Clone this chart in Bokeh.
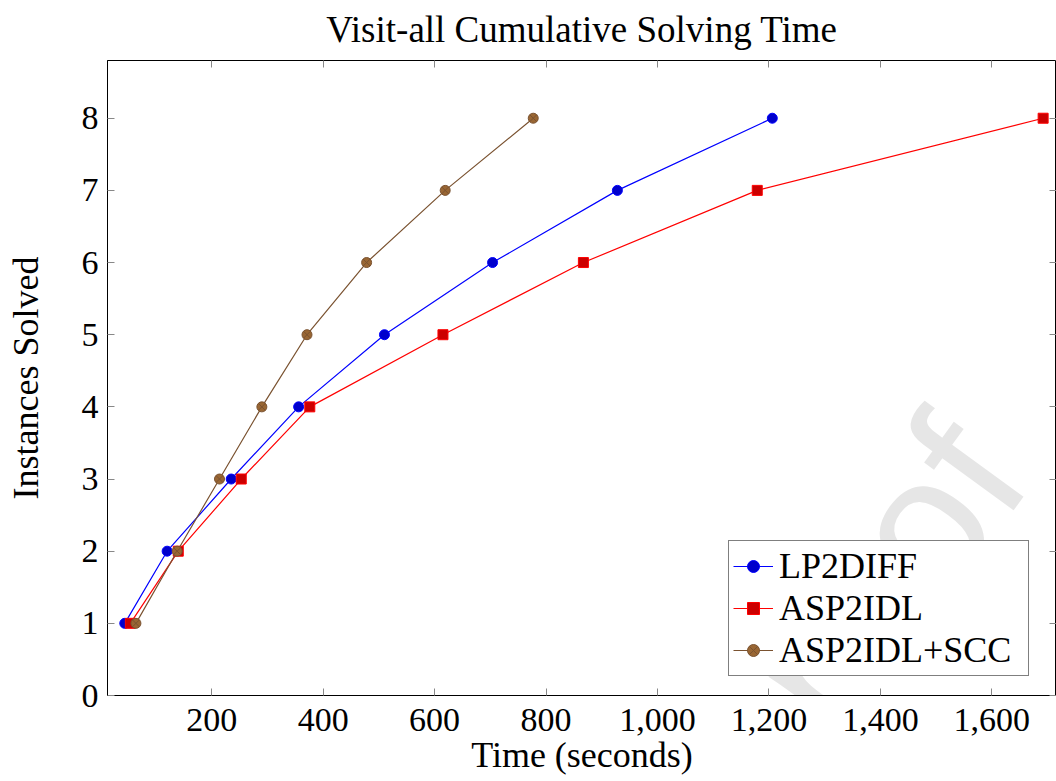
from bokeh.plotting import figure
from bokeh.models import Range1d, LinearAxis, Legend, LegendItem, Label, NumeralTickFormatter, FixedTicker
from bokeh.embed import file_html
from bokeh.resources import INLINE

# ---- data ----
instances = [1, 2, 3, 4, 5, 6, 7, 8]
lp2diff = [44, 120, 235, 356, 510, 704, 928, 1206]
asp2idl = [54, 140, 253, 376, 615, 867, 1179, 1692]
asp2idl_scc = [64, 138, 214, 290, 371, 478, 619, 777]
x_ticks = [200, 400, 600, 800, 1000, 1200, 1400, 1600]
y_ticks = [0, 1, 2, 3, 4, 5, 6, 7, 8]

title_text = "Visit-all Cumulative Solving Time"
x_label = "Time (seconds)"
y_label = "Instances Solved"

FONT = "Liberation Serif"

p = figure(width=1056, height=781, output_backend="svg", toolbar_location=None,
           x_range=Range1d(13, 1716), y_range=Range1d(0, 8.8),
           min_border_left=107, min_border_top=60, min_border_bottom=86, min_border_right=0)

p.xgrid.visible = False
p.ygrid.visible = False
p.outline_line_color = "black"
p.outline_line_width = 1
p.background_fill_color = "white"
p.border_fill_color = "white"

p.title.text = title_text
p.title.align = "center"
p.title.vertical_align = "top"
p.title.text_font = FONT
p.title.text_font_size = "37px"
p.title.text_font_style = "normal"
p.title.text_color = "black"
p.title.text_line_height = 0.7
p.title.standoff = 17

for ax in p.xaxis:
    ax.ticker = FixedTicker(ticks=x_ticks)
    ax.formatter = NumeralTickFormatter(format="0,0")
    ax.axis_label = x_label
for ax in p.yaxis:
    ax.ticker = FixedTicker(ticks=y_ticks)
    ax.axis_label = y_label

for ax in p.xaxis + p.yaxis:
    ax.major_label_text_font = FONT
    ax.major_label_text_font_size = "34px"
    ax.major_label_text_color = "black"
    ax.axis_label_text_font = FONT
    ax.axis_label_text_font_size = "36px"
    ax.axis_label_text_font_style = "normal"
    ax.axis_label_text_color = "black"
    ax.major_tick_in = 7
    ax.major_tick_out = 0
    ax.major_tick_line_color = "#888888"
    ax.minor_tick_line_color = None
    ax.axis_line_color = "black"

p.xaxis.major_label_standoff = 13
p.xaxis.axis_label_standoff = 1
p.yaxis.major_label_standoff = 9
p.yaxis.axis_label_standoff = 33

# mirrored ticks on the right and top (no labels)
for side, tks in (("right", y_ticks), ("above", x_ticks)):
    mirror = LinearAxis(ticker=FixedTicker(ticks=tks), major_label_text_font_size="1px",
                        major_label_text_color=None, major_tick_in=7, major_tick_out=0,
                        major_tick_line_color="#888888", minor_tick_line_color=None,
                        axis_line_color=None, major_label_standoff=0)
    p.add_layout(mirror, side)

# watermark
wm = Label(x=1581, y=3.51, text="Journal Pre-proof", angle=54, angle_units="deg",
           text_align="right", text_baseline="alphabetic", text_font="Liberation Sans",
           text_font_size="190px", text_color="#e6e6e6", level="underlay")
p.add_layout(wm)

series = [
    (lp2diff, "LP2DIFF", "#0000ff", "#0000cc", "circle"),
    (asp2idl, "ASP2IDL", "#ff0000", "#cc0000", "square"),
    (asp2idl_scc, "ASP2IDL+SCC", "#7a5230", "#996633", "circle_x"),
]
items = []
for xs, name, lc, fc, mk in series:
    l = p.line(xs, instances, line_color=lc, line_width=1.2)
    s = p.scatter(xs, instances, marker=mk, size=10, fill_color=fc, line_color=lc, line_width=1)
    items.append(LegendItem(label=name, renderers=[l, s]))

legend = Legend(items=items, location=(621, 19))
legend.label_text_font = FONT
legend.label_text_font_size = "36px"
legend.label_text_color = "black"
legend.label_standoff = 6
legend.label_width = 245
legend.glyph_width = 40
legend.glyph_height = 30
legend.label_height = 30
legend.spacing = 0
legend.padding = 4
legend.margin = 0
legend.border_line_color = "black"
legend.border_line_width = 1
legend.background_fill_color = "white"
legend.background_fill_alpha = 1
p.add_layout(legend, "center")

open("out.html", "w").write(file_html(p, INLINE))
